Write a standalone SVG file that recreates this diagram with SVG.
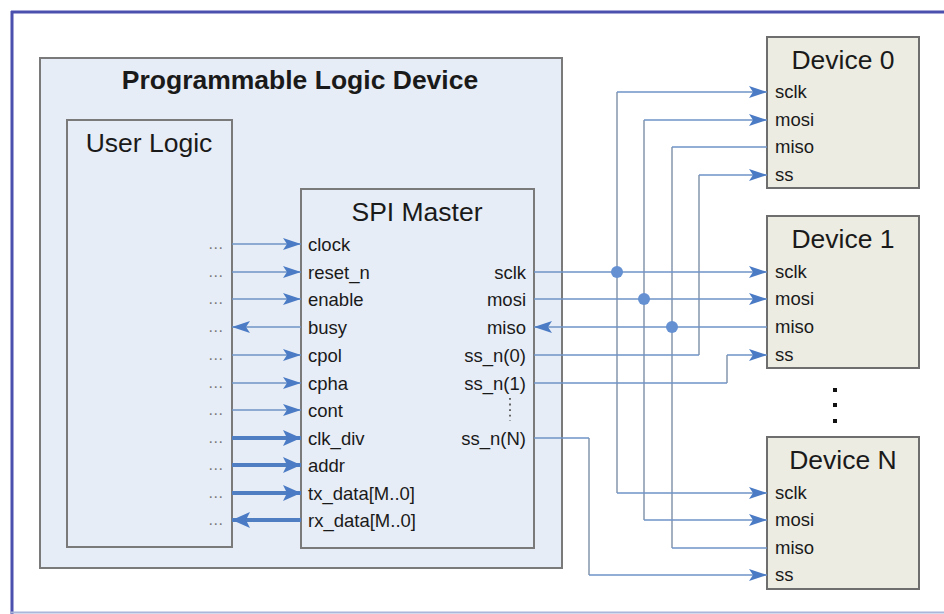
<svg xmlns="http://www.w3.org/2000/svg" width="944" height="614" viewBox="0 0 944 614">
<style>
text{font-family:"Liberation Sans",Arial,sans-serif;fill:#1a1a1a}
.title{font-size:26.5px}
.bold{font-weight:bold}
.port{font-size:18.5px}
.dots{font-size:16px;fill:#7a7a7a;letter-spacing:0.5px}
.box{fill:#e7edf6;stroke:#7a7a7a;stroke-width:2}
.dev{fill:#ecece3;stroke:#6e6e6e;stroke-width:2}
.w{fill:none;stroke:#6f93c6;stroke-width:1.5}
.v{fill:none;stroke:#8596ad;stroke-width:1.5}
.t{fill:none;stroke:#4f7ec2;stroke-width:4}
.j{fill:#6590d2}
</style>
<defs>
<marker id="a" markerUnits="userSpaceOnUse" markerWidth="18" markerHeight="12" refX="18" refY="6" orient="auto">
<path d="M0,0 L18,6 L0,12 L4,6 Z" fill="#4a7bc4"/>
</marker>
<marker id="at" markerUnits="userSpaceOnUse" markerWidth="18" markerHeight="16" refX="18" refY="8" orient="auto">
<path d="M0,0 L18,8 L0,16 L4,8 Z" fill="#4a7bc4"/>
</marker>
</defs>
<rect x="0" y="0" width="944" height="614" fill="#ffffff"/>
<g id="frame">
<line x1="11" y1="12" x2="944" y2="12" stroke="#4b4fae" stroke-width="3"/>
<line x1="12" y1="11" x2="12" y2="614" stroke="#4b4fae" stroke-width="3"/>
<line x1="11" y1="612.5" x2="944" y2="612.5" stroke="#aab6da" stroke-width="2"/>
</g>
<g id="pld">
<rect class="box" x="40" y="58" width="522" height="510"/>
<text class="title bold" x="300" y="89" text-anchor="middle">Programmable Logic Device</text>
</g>
<g id="user-logic">
<rect class="box" x="67" y="120" width="165" height="427"/>
<text class="title" x="149" y="152" text-anchor="middle">User Logic</text>
<text class="dots" x="216" y="249" text-anchor="middle">...</text>
<text class="dots" x="216" y="277" text-anchor="middle">...</text>
<text class="dots" x="216" y="304" text-anchor="middle">...</text>
<text class="dots" x="216" y="332" text-anchor="middle">...</text>
<text class="dots" x="216" y="360" text-anchor="middle">...</text>
<text class="dots" x="216" y="388" text-anchor="middle">...</text>
<text class="dots" x="216" y="415" text-anchor="middle">...</text>
<text class="dots" x="216" y="443" text-anchor="middle">...</text>
<text class="dots" x="216" y="470" text-anchor="middle">...</text>
<text class="dots" x="216" y="498" text-anchor="middle">...</text>
<text class="dots" x="216" y="525" text-anchor="middle">...</text>
</g>
<g id="spi-master">
<rect class="box" x="301" y="189" width="233" height="359" stroke="#6a6a6a"/>
<text class="title" x="417" y="221" text-anchor="middle">SPI Master</text>
<text class="port" x="308" y="251">clock</text>
<text class="port" x="308" y="279">reset_n</text>
<text class="port" x="308" y="306">enable</text>
<text class="port" x="308" y="334">busy</text>
<text class="port" x="308" y="362">cpol</text>
<text class="port" x="308" y="390">cpha</text>
<text class="port" x="308" y="417">cont</text>
<text class="port" x="308" y="445">clk_div</text>
<text class="port" x="308" y="472">addr</text>
<text class="port" x="308" y="500">tx_data[M..0]</text>
<text class="port" x="308" y="527">rx_data[M..0]</text>
<text class="port" x="526" y="279" text-anchor="end">sclk</text>
<text class="port" x="526" y="306" text-anchor="end">mosi</text>
<text class="port" x="526" y="334" text-anchor="end">miso</text>
<text class="port" x="526" y="362" text-anchor="end">ss_n(0)</text>
<text class="port" x="526" y="390" text-anchor="end">ss_n(1)</text>
<line x1="510" y1="398" x2="510" y2="421" stroke="#555" stroke-width="1.8" stroke-dasharray="1.8,3.8"/>
<text class="port" x="526" y="445" text-anchor="end">ss_n(N)</text>
</g>
<g id="device-0">
<rect class="dev" x="767" y="37" width="152" height="151"/>
<text class="title" x="843" y="69" text-anchor="middle">Device 0</text>
<text class="port" x="775" y="98">sclk</text>
<text class="port" x="775" y="126">mosi</text>
<text class="port" x="775" y="153">miso</text>
<text class="port" x="775" y="181">ss</text>
</g>
<g id="device-1">
<rect class="dev" x="767" y="216" width="152" height="152"/>
<text class="title" x="843" y="248" text-anchor="middle">Device 1</text>
<text class="port" x="775" y="278">sclk</text>
<text class="port" x="775" y="305">mosi</text>
<text class="port" x="775" y="333">miso</text>
<text class="port" x="775" y="361">ss</text>
</g>
<g id="device-n">
<rect class="dev" x="767" y="437" width="152" height="152"/>
<text class="title" x="843" y="469" text-anchor="middle">Device N</text>
<text class="port" x="775" y="499">sclk</text>
<text class="port" x="775" y="526">mosi</text>
<text class="port" x="775" y="554">miso</text>
<text class="port" x="775" y="581">ss</text>
</g>
<g id="ellipsis">
<rect x="833" y="388" width="4" height="4" fill="#111"/>
<rect x="833" y="403" width="4" height="4" fill="#111"/>
<rect x="833" y="419" width="4" height="4" fill="#111"/>
</g>
<g id="connectors">
<line class="w" x1="232" y1="244" x2="301" y2="244" marker-end="url(#a)"/>
<line class="w" x1="232" y1="272" x2="301" y2="272" marker-end="url(#a)"/>
<line class="w" x1="232" y1="299" x2="301" y2="299" marker-end="url(#a)"/>
<line class="w" x1="301" y1="327" x2="232" y2="327" marker-end="url(#a)"/>
<line class="w" x1="232" y1="355" x2="301" y2="355" marker-end="url(#a)"/>
<line class="w" x1="232" y1="383" x2="301" y2="383" marker-end="url(#a)"/>
<line class="w" x1="232" y1="410" x2="301" y2="410" marker-end="url(#a)"/>
<line class="t" x1="232" y1="438" x2="301" y2="438" marker-end="url(#at)"/>
<line class="t" x1="232" y1="465" x2="301" y2="465" marker-end="url(#at)"/>
<line class="t" x1="232" y1="493" x2="301" y2="493" marker-end="url(#at)"/>
<line class="t" x1="301" y1="520" x2="232" y2="520" marker-end="url(#at)"/>
<path class="v" d="M617,92 V493"/>
<path class="v" d="M644,120 V520"/>
<path class="v" d="M672,147 V548"/>
<path class="v" d="M699,175 V355"/>
<path class="v" d="M727,355 V383"/>
<path class="v" d="M589,438 V575"/>
<path class="w" d="M617,92 H767" marker-end="url(#a)"/>
<path class="w" d="M644,120 H767" marker-end="url(#a)"/>
<path class="w" d="M672,147 H767"/>
<path class="w" d="M699,175 H767" marker-end="url(#a)"/>
<path class="w" d="M534,272 H767" marker-end="url(#a)"/>
<path class="w" d="M534,299 H767" marker-end="url(#a)"/>
<path class="w" d="M767,327 H534" marker-end="url(#a)"/>
<path class="w" d="M534,355 H699"/>
<path class="w" d="M727,355 H767" marker-end="url(#a)"/>
<path class="w" d="M534,383 H727"/>
<path class="w" d="M534,438 H589"/>
<path class="w" d="M617,493 H767" marker-end="url(#a)"/>
<path class="w" d="M644,520 H767" marker-end="url(#a)"/>
<path class="w" d="M672,548 H767"/>
<path class="w" d="M589,575 H767" marker-end="url(#a)"/>
<circle class="j" cx="617" cy="272" r="6"/>
<circle class="j" cx="644" cy="299" r="6"/>
<circle class="j" cx="672" cy="327" r="6"/>
</g>
</svg>
